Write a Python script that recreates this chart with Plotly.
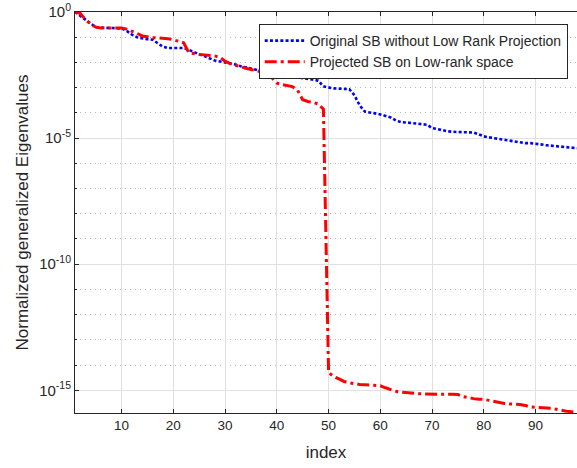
import plotly.graph_objects as go

index = list(range(1, 99))

# log10 of normalized generalized eigenvalues
orig_exp = [
    0, -0.15, -0.3, -0.45, -0.6, -0.62, -0.63, -0.63, -0.63, -0.65,
    -0.75, -0.9, -1.0, -1.05, -1.08, -1.1, -1.25, -1.38, -1.43, -1.43,
    -1.43, -1.43, -1.5, -1.6, -1.68, -1.75, -1.85, -1.92, -1.96, -2.0,
    -2.02, -2.08, -2.15, -2.2, -2.25, -2.3, -2.35, -2.4, -2.43, -2.45,
    -2.48, -2.52, -2.57, -2.6, -2.63, -2.66, -2.68, -2.72, -2.95, -3.0,
    -3.03, -3.04, -3.05, -3.06, -3.3, -3.7, -3.95, -4.0, -4.02, -4.06,
    -4.12, -4.18, -4.3, -4.37, -4.38, -4.4, -4.45, -4.46, -4.47, -4.6,
    -4.65, -4.7, -4.73, -4.75, -4.76, -4.76, -4.77, -4.78, -4.85, -4.93,
    -4.97, -5.0, -5.02, -5.05, -5.08, -5.12, -5.16, -5.2, -5.2, -5.21,
    -5.25, -5.28, -5.3, -5.32, -5.34, -5.36, -5.38, -5.4,
]

proj_exp = [
    0, -0.05, -0.3, -0.48, -0.6, -0.63, -0.63, -0.63, -0.63, -0.63,
    -0.68, -0.75, -0.85, -0.95, -1.0, -1.02, -1.03, -1.04, -1.06, -1.1,
    -1.15, -1.22, -1.62, -1.66, -1.68, -1.7, -1.72, -1.74, -1.8, -1.95,
    -2.05, -2.12, -2.18, -2.23, -2.28, -2.33, -2.38, -2.42, -2.6, -2.82,
    -2.88, -2.93, -2.96, -3.1, -3.48, -3.55, -3.58, -3.65, -3.85, -14.3,
    -14.45, -14.55, -14.65, -14.7, -14.75, -14.77, -14.78, -14.79, -14.8, -14.82,
    -14.9, -14.98, -15.04, -15.07, -15.1, -15.12, -15.13, -15.14, -15.15, -15.16,
    -15.16, -15.16, -15.16, -15.16, -15.17, -15.25, -15.3, -15.33, -15.35, -15.36,
    -15.4, -15.45, -15.5, -15.52, -15.54, -15.55, -15.56, -15.6, -15.66, -15.68,
    -15.69, -15.7, -15.71, -15.75, -15.8, -15.83, -15.85, -15.88,
]

orig_vals = [10 ** e for e in orig_exp]
proj_vals = [10 ** e for e in proj_exp]

y_tickvals = [1, 1e-5, 1e-10, 1e-15]
y_ticktext = ["10<sup>0</sup>", "10<sup>-5</sup>", "10<sup>-10</sup>", "10<sup>-15</sup>"]
x_tickvals = [10, 20, 30, 40, 50, 60, 70, 80, 90]

series_names = ["Original SB without Low Rank Projection", "Projected SB on Low-rank space"]

FONT = "Liberation Sans, Arial, Helvetica, sans-serif"
DARK = "#262626"

fig = go.Figure()
fig.add_trace(go.Scatter(
    x=index, y=orig_vals, mode="lines", name=series_names[0],
    line=dict(color="#0000ff", width=2.6, dash="3px,2.2px"),
))
fig.add_trace(go.Scatter(
    x=index, y=proj_vals, mode="lines", name=series_names[1],
    line=dict(color="#ff0000", width=3, dash="12px,4px,3px,4px"),
))

fig.update_layout(
    width=577, height=468,
    margin=dict(l=75, r=0, t=12, b=55),
    paper_bgcolor="white", plot_bgcolor="white",
    font=dict(family=FONT, size=13, color=DARK),
    showlegend=True,
    legend=dict(
        x=0.366, y=0.97, xanchor="left", yanchor="top",
        bgcolor="white", bordercolor=DARK, borderwidth=1,
        font=dict(family=FONT, size=14, color=DARK),
        tracegroupgap=0, itemwidth=40,
    ),
)

fig.update_xaxes(
    range=[1, 98], tickmode="array", tickvals=x_tickvals,
    ticks="inside", ticklen=4, tickcolor=DARK,
    showline=True, linecolor=DARK, linewidth=1, mirror="ticks",
    showgrid=True, gridcolor="#e0e0e0", gridwidth=1,
    zeroline=False,
    tickfont=dict(family=FONT, size=13.5, color=DARK),
    title=dict(text="index", font=dict(family=FONT, size=17, color=DARK), standoff=13),
)

fig.update_yaxes(
    type="log", range=[-15.9, 0],
    tickmode="array", tickvals=y_tickvals, ticktext=y_ticktext,
    ticks="inside", ticklen=4, tickcolor=DARK,
    showline=True, linecolor=DARK, linewidth=1,
    showgrid=True, gridcolor="#e0e0e0", gridwidth=1,
    minor=dict(dtick=1, showgrid=True, gridcolor="#b8b8b8", griddash="1px,4px",
               ticks="inside", ticklen=2, tickcolor=DARK),
    zeroline=False,
    tickfont=dict(family=FONT, size=15, color=DARK),
    title=dict(text="Normalized generalized Eigenvalues",
               font=dict(family=FONT, size=17, color=DARK), standoff=6),
)

fig.write_html("out.html")
